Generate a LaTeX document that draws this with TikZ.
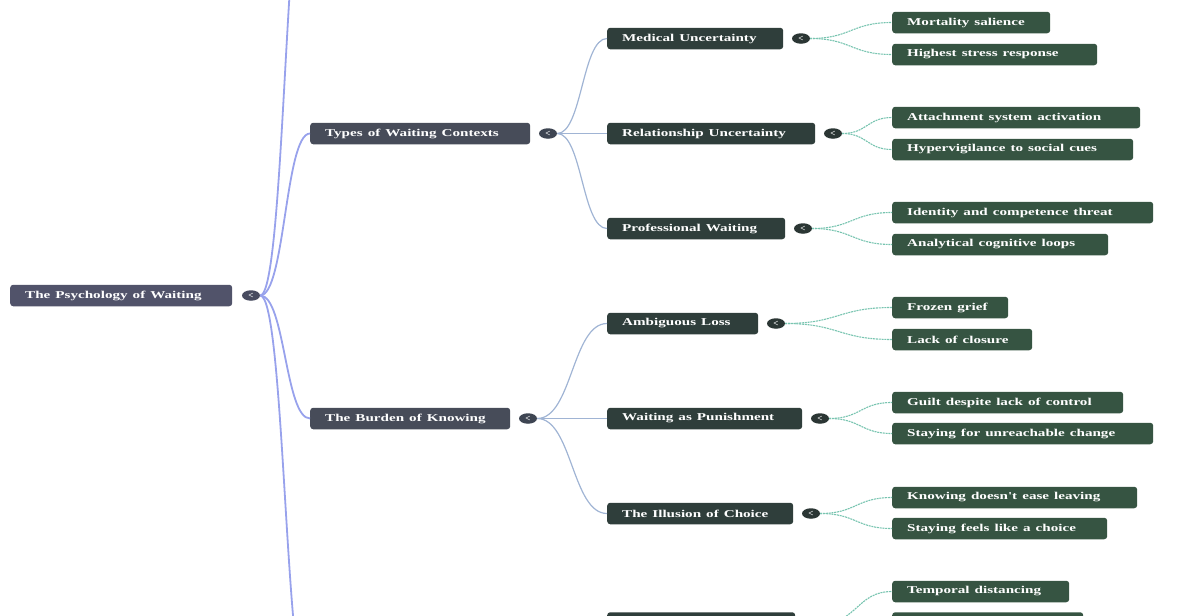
\documentclass[tikz,border=0pt]{standalone}
\usepackage{fontspec}
\setmainfont{Liberation Serif}
\usetikzlibrary{shapes.geometric,calc}
\definecolor{cRoot}{RGB}{81,83,106}
\definecolor{cL1}{RGB}{71,76,89}
\definecolor{cL2}{RGB}{47,62,59}
\definecolor{cL3}{RGB}{54,84,66}
\definecolor{bRoot}{RGB}{72,76,96}
\definecolor{bL1}{RGB}{62,69,82}
\definecolor{bL2}{RGB}{43,54,52}
\definecolor{lnRoot}{RGB}{152,162,236}
\definecolor{lnL1}{RGB}{160,180,212}
\definecolor{lnL2}{RGB}{120,196,176}
\newcommand\T[1]{\scalebox{1.44}[1]{#1}}
\newcommand\bx[6]{\pgfmathsetmacro\bw{#4-#3-30}\node[#2,text width=\bw pt] (#1) at (#3,#5) {\T{#6}};}
\newcommand\lnk[3]{\coordinate (mm) at ($(#2)!0.5!(#3)$); \draw[#1] (#2) .. controls (mm |- #2) and (mm |- #3) .. (#3);}
\tikzset{
  box/.style={anchor=west, rounded corners=3pt, minimum height=21.5pt, inner xsep=15pt, inner ysep=0pt,
    text=white, font=\fontsize{10.5}{12}\selectfont\bfseries, align=left},
  rootbox/.style={box, fill=cRoot},
  lonebox/.style={box, fill=cL1},
  ltwobox/.style={box, fill=cL2},
  lthreebox/.style={box, fill=cL3},
  badge/.style={ellipse, minimum width=18pt, minimum height=10.5pt, inner sep=0pt, text=white,
    font=\fontsize{9}{9}\selectfont\bfseries},
  rootline/.style={draw=lnRoot, line width=1.8pt},
  lonelink/.style={draw=lnL1, line width=1.2pt},
  ltwolink/.style={draw=lnL2, line width=1.1pt, dash pattern=on 2pt off 0.8pt},
}
\begin{document}
\begin{tikzpicture}[x=1pt,y=-1pt]
\useasboundingbox (0,0) rectangle (1200,616);
% root
\bx{root}{rootbox}{10}{232}{295.5}{The Psychology of Waiting}
\node[badge, fill=bRoot] (b0) at (251,295.5) {<};
% hidden level-1 positions
\coordinate (h1) at (310,-152);
\coordinate (h2) at (310,703);
% level 1
\bx{a}{lonebox}{310}{530}{133.5}{Types of Waiting Contexts}
\bx{b}{lonebox}{310}{510}{418.5}{The Burden of Knowing}
\node[badge, fill=bL1] (ba) at (548,133.5) {<};
\node[badge, fill=bL1] (bb) at (528,418.5) {<};
% level 2
\bx{a1}{ltwobox}{607}{783}{38.5}{Medical Uncertainty}
\bx{a2}{ltwobox}{607}{815}{133.5}{Relationship Uncertainty}
\bx{a3}{ltwobox}{607}{785}{228.5}{Professional Waiting}
\bx{b1}{ltwobox}{607}{758}{323.5}{Ambiguous Loss}
\bx{b2}{ltwobox}{607}{802}{418.5}{Waiting as Punishment}
\bx{b3}{ltwobox}{607}{793}{513.5}{The Illusion of Choice}
\node[ltwobox, minimum width=188pt] (c1) at (607,623) {};
\node[badge, fill=bL2] (ba1) at (801,38.5) {<};
\node[badge, fill=bL2] (ba2) at (833,133.5) {<};
\node[badge, fill=bL2] (ba3) at (803,228.5) {<};
\node[badge, fill=bL2] (bb1) at (776,323.5) {<};
\node[badge, fill=bL2] (bb2) at (820,418.5) {<};
\node[badge, fill=bL2] (bb3) at (811,513.5) {<};
\node[badge, fill=bL2] (bc1) at (813,623) {};
% level 3
\bx{a11}{lthreebox}{892}{1050}{22.5}{Mortality salience}
\bx{a12}{lthreebox}{892}{1097}{54.5}{Highest stress response}
\bx{a21}{lthreebox}{892}{1140}{117.5}{Attachment system activation}
\bx{a22}{lthreebox}{892}{1133}{149.5}{Hypervigilance to social cues}
\bx{a31}{lthreebox}{892}{1153}{212.5}{Identity and competence threat}
\bx{a32}{lthreebox}{892}{1108}{244.5}{Analytical cognitive loops}
\bx{b11}{lthreebox}{892}{1008}{307.5}{Frozen grief}
\bx{b12}{lthreebox}{892}{1032}{339.5}{Lack of closure}
\bx{b21}{lthreebox}{892}{1123}{402.5}{Guilt despite lack of control}
\bx{b22}{lthreebox}{892}{1153}{433.5}{Staying for unreachable change}
\bx{b31}{lthreebox}{892}{1137}{497.5}{Knowing doesn\textquotesingle t ease leaving}
\bx{b32}{lthreebox}{892}{1107}{528.5}{Staying feels like a choice}
\bx{c11}{lthreebox}{892}{1069}{591.5}{Temporal distancing}
\node[lthreebox, minimum width=191pt] (c12) at (892,623) {};
% connectors
\lnk{rootline}{b0.east}{h1}
\lnk{rootline}{b0.east}{a.west}
\lnk{rootline}{b0.east}{b.west}
\lnk{rootline}{b0.east}{h2}
\lnk{lonelink}{ba.east}{a1.west}
\lnk{lonelink}{ba.east}{a2.west}
\lnk{lonelink}{ba.east}{a3.west}
\lnk{lonelink}{bb.east}{b1.west}
\lnk{lonelink}{bb.east}{b2.west}
\lnk{lonelink}{bb.east}{b3.west}
\lnk{ltwolink}{ba1.east}{a11.west}
\lnk{ltwolink}{ba1.east}{a12.west}
\lnk{ltwolink}{ba2.east}{a21.west}
\lnk{ltwolink}{ba2.east}{a22.west}
\lnk{ltwolink}{ba3.east}{a31.west}
\lnk{ltwolink}{ba3.east}{a32.west}
\lnk{ltwolink}{bb1.east}{b11.west}
\lnk{ltwolink}{bb1.east}{b12.west}
\lnk{ltwolink}{bb2.east}{b21.west}
\lnk{ltwolink}{bb2.east}{b22.west}
\lnk{ltwolink}{bb3.east}{b31.west}
\lnk{ltwolink}{bb3.east}{b32.west}
\lnk{ltwolink}{bc1.east}{c11.west}
\lnk{ltwolink}{bc1.east}{c12.west}
\end{tikzpicture}
\end{document}
